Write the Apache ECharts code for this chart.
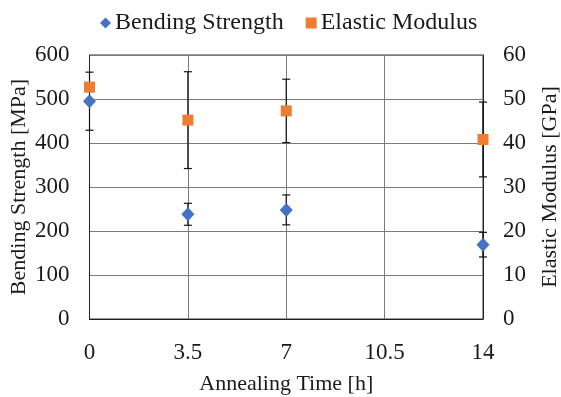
<!DOCTYPE html>
<html>
<head>
<meta charset="utf-8">
<script src="https://cdn.jsdelivr.net/npm/echarts@6/dist/echarts.min.js"></script>
<style>
  html, body { margin: 0; padding: 0; background: #ffffff; }
  #chart { width: 561px; height: 397px; }
</style>
</head>
<body>
<div id="chart"></div>
<script>
// Annealing time (h)
const times = [0, 3.5, 7, 14];
// Bending strength (MPa) and standard deviation
const bendingStrength = [495, 238, 248, 169];
const bendingErr = [66, 25, 34, 28];
// Elastic modulus (GPa) and standard deviation
const elasticModulus = [52.7, 45.2, 47.3, 40.8];
const modulusErr = [1, 11, 7.2, 8.5];
// Axis tick values
const xTicks = [0, 3.5, 7, 10.5, 14];
const leftTicks = [0, 100, 200, 300, 400, 500, 600];
const rightTicks = [0, 10, 20, 30, 40, 50, 60];

const FONT = 'Liberation Serif';
const TXT = '#1a1a1a';
const BLUE = '#4472C4';
const ORANGE = '#ED7D31';

const chart = echarts.init(document.getElementById('chart'), null, { renderer: 'canvas' });

function pairs(xs, ys) { return xs.map((x, i) => [x, ys[i]]); }
function errRows(xs, ys, es) { return xs.map((x, i) => [x, ys[i], es[i]]); }

// Vertical error bar with short caps, positioned through the axis scales
function errorBar(params, api) {
  const x = api.value(0), y = api.value(1), e = api.value(2);
  const hi = api.coord([x, y + e]);
  const lo = api.coord([x, y - e]);
  const cap = 4;
  const style = { stroke: '#111', lineWidth: 1.2 };
  return {
    type: 'group',
    children: [
      { type: 'line', shape: { x1: hi[0], y1: hi[1], x2: lo[0], y2: lo[1] }, style },
      { type: 'line', shape: { x1: hi[0] - cap, y1: hi[1], x2: hi[0] + cap, y2: hi[1] }, style },
      { type: 'line', shape: { x1: lo[0] - cap, y1: lo[1], x2: lo[0] + cap, y2: lo[1] }, style }
    ]
  };
}

const nameStyle = { color: TXT, fontFamily: FONT, fontSize: 22 };
const tickStyle = { color: TXT, fontFamily: FONT, fontSize: 23 };

chart.setOption({
  animation: false,
  backgroundColor: '#ffffff',
  textStyle: { fontFamily: FONT, color: TXT },
  legend: {
    top: 6,
    left: 95,
    itemGap: 22,
    itemWidth: 11,
    itemHeight: 11,
    textStyle: { color: TXT, fontFamily: FONT, fontSize: 24, padding: [0, 0, 0, -1] },
    data: [
      { name: 'Bending Strength', icon: 'diamond' },
      { name: 'Elastic Modulus', icon: 'rect' }
    ]
  },
  grid: {
    left: 89.5, right: 78, top: 55, bottom: 78,
    outerBoundsMode: 'none',
    containLabel: false,
    show: true, borderColor: '#333', borderWidth: 1
  },
  xAxis: {
    type: 'value',
    min: 0, max: 14, interval: 3.5,
    name: 'Annealing Time [h]',
    nameLocation: 'middle',
    nameGap: 54,
    nameMoveOverlap: false,
    nameTextStyle: nameStyle,
    axisLine: { show: true, lineStyle: { color: '#222', width: 1 } },
    axisTick: { show: false },
    axisLabel: Object.assign({ margin: 22, formatter: v => xTicks.includes(v) ? String(v) : '' }, tickStyle),
    splitLine: { show: true, lineStyle: { color: '#7a7a7a', width: 1 } }
  },
  yAxis: [
    {
      type: 'value',
      min: 0, max: 600, interval: 100,
      name: 'Bending Strength [MPa]',
      nameLocation: 'middle',
      nameGap: 59,
      nameMoveOverlap: false,
      nameTextStyle: nameStyle,
      axisLine: { show: true, lineStyle: { color: '#222', width: 1 } },
      axisTick: { show: false },
      axisLabel: Object.assign({ margin: 20, formatter: v => leftTicks.includes(v) ? String(v) : '' }, tickStyle),
      splitLine: { show: true, lineStyle: { color: '#7a7a7a', width: 1 } }
    },
    {
      type: 'value',
      min: 0, max: 60, interval: 10,
      name: 'Elastic Modulus [GPa]',
      nameLocation: 'middle',
      nameGap: 56,
      nameMoveOverlap: false,
      nameTextStyle: nameStyle,
      axisLine: { show: true, lineStyle: { color: '#222', width: 1 } },
      axisTick: { show: false },
      axisLabel: Object.assign({ margin: 20, formatter: v => rightTicks.includes(v) ? String(v) : '' }, tickStyle),
      splitLine: { show: false }
    }
  ],
  series: [
    {
      name: 'Bending Strength error',
      type: 'custom',
      yAxisIndex: 0,
      renderItem: errorBar,
      data: errRows(times, bendingStrength, bendingErr),
      z: 3,
      silent: true
    },
    {
      name: 'Elastic Modulus error',
      type: 'custom',
      yAxisIndex: 1,
      renderItem: errorBar,
      data: errRows(times, elasticModulus, modulusErr),
      z: 3,
      silent: true
    },
    {
      name: 'Bending Strength',
      type: 'scatter',
      yAxisIndex: 0,
      symbol: 'diamond',
      symbolSize: [13, 14],
      itemStyle: { color: BLUE, opacity: 1 },
      data: pairs(times, bendingStrength),
      z: 5
    },
    {
      name: 'Elastic Modulus',
      type: 'scatter',
      yAxisIndex: 1,
      symbol: 'rect',
      symbolSize: 11,
      itemStyle: { color: ORANGE, opacity: 1 },
      data: pairs(times, elasticModulus),
      z: 5
    }
  ]
});
</script>
</body>
</html>
